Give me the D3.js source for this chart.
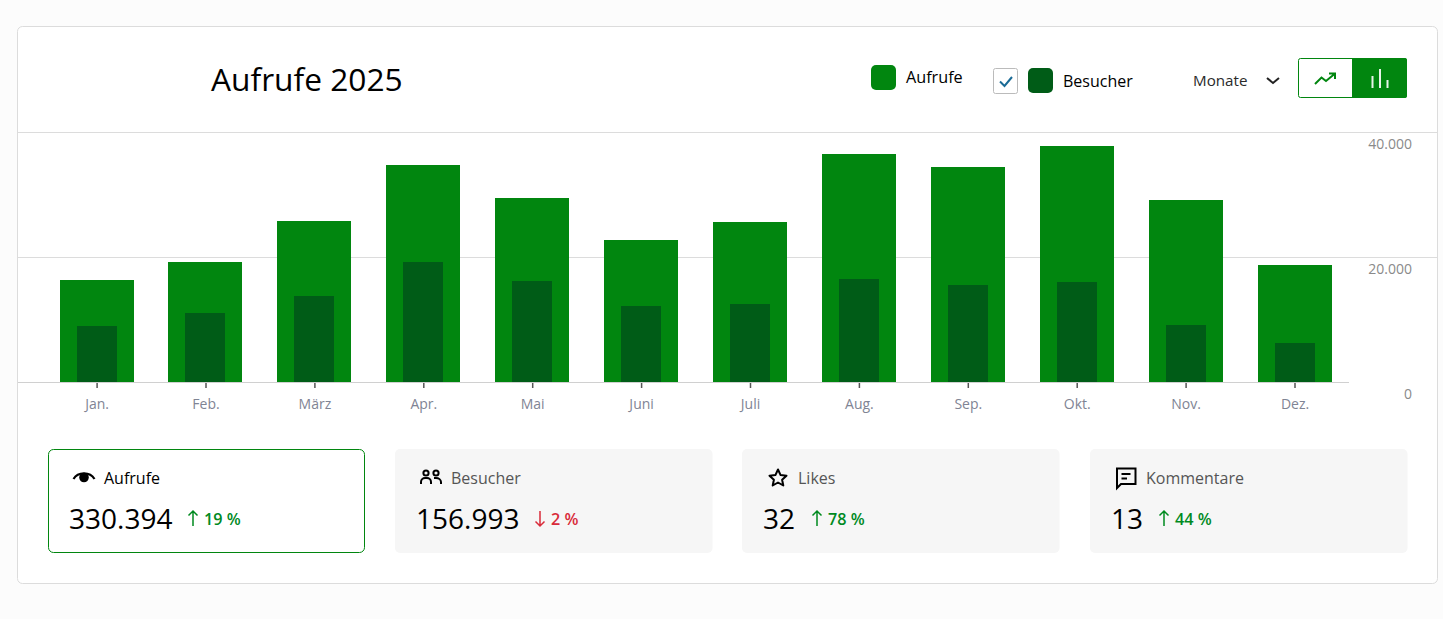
<!DOCTYPE html>
<html lang="de">
<head>
<meta charset="utf-8">
<title>Aufrufe 2025</title>
<script src="https://cdn.jsdelivr.net/npm/d3@7"></script>
<style>
html,body{margin:0;padding:0;background:#fcfcfc;overflow:hidden}
svg{display:block}
text{font-family:"Open Sans","Noto Sans",sans-serif}
</style>
</head>
<body>
<svg id="c" width="1443" height="619"></svg>
<script>
const months = ["Jan.","Feb.","März","Apr.","Mai","Juni","Juli","Aug.","Sep.","Okt.","Nov.","Dez."];
const aufrufe = [16320,19200,25760,34720,29440,22720,25600,36480,34400,37760,29120,18720];
const besucher = [8960,11040,13760,19200,16160,12160,12480,16480,15520,16000,9120,6240];
const yTicks = [0,20000,40000];
const cardLabels = ["Aufrufe","Besucher","Likes","Kommentare"];
const cardValues = ["330.394","156.993","32","13"];
const cardDeltas = ["19 %","2 %","78 %","44 %"];
const cardTrend = ["up","down","up","up"];

const GREEN="#01860f", DARK="#005c17", RED="#d92b3a", UP="#008a1f";
const svg=d3.select("#c");

svg.append("rect").attr("x",17.5).attr("y",26.5).attr("width",1420).attr("height",557).attr("rx",5)
  .attr("fill","#fff").attr("stroke","#dcdcdc");

const tx=(g,x,y,s,size,fill,anchor,weight)=>g.append("text").attr("x",x).attr("y",y).text(s)
  .attr("font-size",size).attr("fill",fill).attr("text-anchor",anchor||"start").attr("font-weight",weight||400);

// header
tx(svg,211,91,"Aufrufe 2025",31.7,"#000");
svg.append("rect").attr("x",871).attr("y",65).attr("width",25).attr("height",25).attr("rx",5).attr("fill",GREEN);
tx(svg,906,83,"Aufrufe",16.2,"#000");
svg.append("rect").attr("x",993.5).attr("y",68.5).attr("width",24).attr("height",25).attr("rx",2).attr("fill","#fff").attr("stroke","#bbb");
svg.append("path").attr("d","M1000 81.5l4.5 4.5 7.5-9").attr("fill","none").attr("stroke","#1a6b96").attr("stroke-width",2);
svg.append("rect").attr("x",1028).attr("y",68).attr("width",25).attr("height",25).attr("rx",5).attr("fill",DARK);
tx(svg,1063,87,"Besucher",16,"#000");
tx(svg,1193,86,"Monate",15.2,"#2a2a2a");
svg.append("path").attr("d","M1267 78l6 5 6-5").attr("fill","none").attr("stroke","#222").attr("stroke-width",2);
svg.append("rect").attr("x",1298.5).attr("y",58.5).attr("width",108).attr("height",39).attr("rx",2).attr("fill","#fff").attr("stroke",GREEN);
svg.append("path").attr("d","M1352 58h53a2 2 0 0 1 2 2v36a2 2 0 0 1-2 2h-53z").attr("fill",GREEN);
svg.append("path").attr("d","M1315 84l6.5-6.5 4.5 3.5 8.500-7M1329 73.500h6v5.500").attr("fill","none").attr("stroke",GREEN).attr("stroke-width",2);
svg.append("path").attr("d","M1372.500 88v-12M1380 88v-19M1387.500 88v-8").attr("stroke","#e8f3e9").attr("stroke-width",2);

// chart
const x=d3.scaleBand().domain(months).range([42.65,1349.45]).padding(0);
const y=d3.scaleLinear().domain([0,40000]).range([382,132]);
const cx=m=>x(m)+x.bandwidth()/2;
svg.append("line").attr("x1",18).attr("x2",1437).attr("y1",132.5).attr("y2",132.5).attr("stroke","#dcdcdc");
const gy=svg.append("g");
gy.selectAll("line").data(yTicks.slice(1,2)).join("line")
  .attr("x1",18).attr("x2",1437).attr("y1",d=>y(d)+.5).attr("y2",d=>y(d)+.5).attr("stroke","#dcdcdc");
const fmt=d=>d3.format(",")(d).replace(/,/g,".");
gy.selectAll("text").data(yTicks).join("text").attr("x",1412).attr("y",d=>y(d)+17)
  .attr("text-anchor","end").attr("font-size",14).attr("fill","#8a8a8a").text(fmt);

const outerW=74, innerW=40;
svg.append("g").selectAll("rect").data(aufrufe).join("rect")
  .attr("x",(d,i)=>Math.floor(cx(months[i])-outerW/2)).attr("width",outerW)
  .attr("y",d=>y(d)).attr("height",d=>y(0)-y(d)).attr("fill",GREEN);
svg.append("g").selectAll("rect").data(besucher).join("rect")
  .attr("x",(d,i)=>Math.floor(cx(months[i])-innerW/2)).attr("width",innerW)
  .attr("y",d=>y(d)).attr("height",d=>y(0)-y(d)).attr("fill",DARK);
svg.append("line").attr("x1",18).attr("x2",1349).attr("y1",382.5).attr("y2",382.5).attr("stroke","#d0d0d0");
const gx=svg.append("g").selectAll("g").data(months).join("g")
  .attr("transform",d=>`translate(${cx(d)},0)`);
gx.append("line").attr("y1",383).attr("y2",388).attr("stroke","#555").attr("stroke-width",1.5);
gx.append("text").attr("y",409).attr("text-anchor","middle").attr("font-size",14).attr("fill","#7f8494").text(d=>d);

// cards
const cardX=d3.scaleLinear().domain([0,3]).range([48,1090]);
const numW=[103,103,33,32];
const icons=[
 g=>{g.append("path").attr("d","M-10.500 2C-6-5.500 6-5.500 10.500 2").attr("fill","none").attr("stroke","#000").attr("stroke-width",2.200);
     g.append("circle").attr("cx",0).attr("cy",0.500).attr("r",4.800).attr("fill","#000");},
 g=>{g.attr("fill","none").attr("stroke","#000").attr("stroke-width",2);
     g.append("circle").attr("cx",-5).attr("cy",-5).attr("r",2.600);
     g.append("circle").attr("cx",5).attr("cy",-5).attr("r",2.600);
     g.append("path").attr("d","M-10 6v-2a4 4 0 0 1 4-4h2a4 4 0 0 1 4 4v2M3 0h2a5 4 0 0 1 5 4v2");},
 g=>{g.append("path").attr("d","M0-8.500L2.600-2.900 8.500-2.300 4.100 1.700 5.300 7.500 0 4.500-5.300 7.500-4.100 1.700-8.500-2.300-2.600-2.900Z").attr("fill","none").attr("stroke","#000").attr("stroke-width",2).attr("stroke-linejoin","round");},
 g=>{g.append("path").attr("d","M-9-9.500H9.500V6H-5L-9 10Z").attr("fill","none").attr("stroke","#000").attr("stroke-width",2);
     g.append("path").attr("d","M-4.500-4H4.500M-4.500 0.500H1").attr("stroke","#000").attr("stroke-width",2);}
];
const iconDx=[36,36,36,36];
cardLabels.forEach((label,i)=>{
  const g=svg.append("g").attr("transform",`translate(${Math.round(cardX(i)-.2)},449)`), active=i===0;
  g.append("rect").attr("x",active?.5:0).attr("y",active?.5:0).attr("width",active?316:317.500).attr("height",active?103:104).attr("rx",5)
    .attr("fill",active?"#fff":"#f6f6f6").attr("stroke",active?GREEN:"none");
  icons[i](g.append("g").attr("transform",`translate(${iconDx[i]},${i===0?28:29})`));
  tx(g,56,35,label,16,active?"#000":"#555");
  tx(g,21,80,cardValues[i],28,"#000");
  const ax=21+numW[i]+21, up=cardTrend[i]==="up", col=up?UP:RED;
  g.append("path").attr("d",up?`M${ax} 77V62M${ax-4.500} 66.500L${ax} 62 ${ax+4.500} 66.500`:`M${ax} 62V77M${ax-4.500} 72.500L${ax} 77 ${ax+4.500} 72.500`)
    .attr("fill","none").attr("stroke",col).attr("stroke-width",1.500);
  tx(g,ax+11,76,cardDeltas[i],16.200,col,"start",600);
});
</script>
</body>
</html>
